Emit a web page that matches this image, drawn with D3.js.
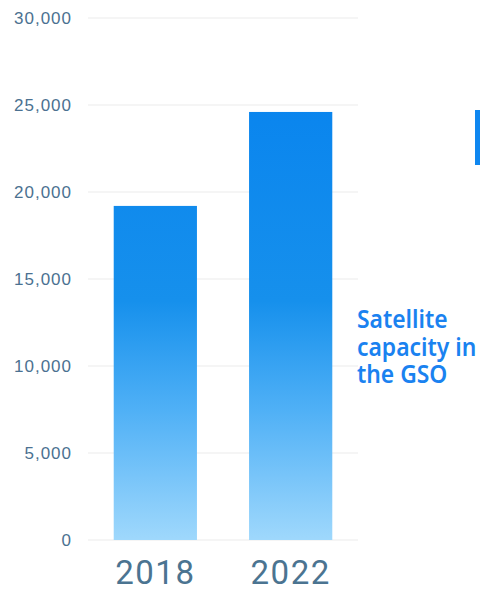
<!DOCTYPE html>
<html>
<head>
<meta charset="utf-8">
<script src="https://cdn.jsdelivr.net/npm/d3@7"></script>
<style>
  body { margin: 0; background: #fff; }
  svg { display: block; }
</style>
</head>
<body>
<svg id="chart" width="480" height="592"></svg>
<script>
const years = ["2018", "2022"];
const capacity = [19200, 24600];
const yTicks = [0, 5000, 10000, 15000, 20000, 25000, 30000];
const seriesName = ["Satellite", "capacity in", "the GSO"];

const svg = d3.select("#chart");

//plot area
const margin = { top: 18, left: 88, right: 122, bottom: 52 };
const width = +svg.attr("width");
const height = +svg.attr("height");
const innerWidth = width - margin.left - margin.right;
const innerHeight = height - margin.top - margin.bottom;

const x = d3.scaleBand()
  .domain(years)
  .range([margin.left, margin.left + innerWidth])
  .paddingInner(0.385)
  .paddingOuter(0.19);
const y = d3.scaleLinear()
  .domain([0, 30000])
  .range([margin.top + innerHeight, margin.top]);

//gradient shared by both bars
const grad = svg.append("defs").append("linearGradient")
  .attr("id", "barGrad")
  .attr("gradientUnits", "userSpaceOnUse")
  .attr("x1", 0).attr("x2", 0)
  .attr("y1", y(25000)).attr("y2", y(0));
grad.append("stop").attr("offset", "0%").attr("stop-color", "#0a85ee");
grad.append("stop").attr("offset", "45%").attr("stop-color", "#1690ec");
grad.append("stop").attr("offset", "70%").attr("stop-color", "#4fb0f6");
grad.append("stop").attr("offset", "100%").attr("stop-color", "#9fd8fc");

//gridlines
svg.append("g")
  .selectAll("line")
  .data(yTicks)
  .join("line")
  .attr("x1", margin.left)
  .attr("x2", margin.left + innerWidth)
  .attr("y1", d => y(d))
  .attr("y2", d => y(d))
  .attr("stroke", "#ebebeb")
  .attr("stroke-width", 1);

//y axis labels
const yAxis = svg.append("g")
  .attr("transform", `translate(${margin.left - 16},0)`)
  .call(d3.axisLeft(y).tickValues(yTicks).tickSize(0).tickPadding(0).tickFormat(d3.format(",")));
yAxis.select(".domain").remove();
yAxis.selectAll("text")
  .attr("font-family", "'Liberation Sans', Arial, sans-serif")
  .attr("font-size", "17px")
  .attr("letter-spacing", "1px")
  .attr("fill", "#4b7191");

//bars
svg.append("g")
  .selectAll("rect")
  .data(capacity)
  .join("rect")
  .attr("x", (d, i) => x(years[i]))
  .attr("y", d => y(d))
  .attr("width", x.bandwidth())
  .attr("height", d => y(0) - y(d))
  .attr("fill", "url(#barGrad)");

//x labels
const xAxis = svg.append("g")
  .attr("transform", `translate(0,${y(0)})`)
  .call(d3.axisBottom(x).tickSize(0).tickPadding(21));
xAxis.select(".domain").remove();
xAxis.selectAll("text")
  .attr("font-family", "Roboto, sans-serif")
  .attr("font-size", "33px")
  .attr("letter-spacing", "1.5px")
  .attr("fill", "#4b7491");

//legend swatch (cut at the edge)
svg.append("rect")
  .attr("x", 475)
  .attr("y", 110)
  .attr("width", 10)
  .attr("height", 55)
  .attr("fill", "#0f87f0");

//series label
svg.append("text")
  .attr("transform", "translate(357,328) scale(0.88,1)")
  .attr("font-family", "'Noto Sans', sans-serif")
  .attr("font-size", "26px")
  .attr("font-weight", "600")
  .attr("fill", "#1a82f0")
  .selectAll("tspan")
  .data(seriesName)
  .join("tspan")
  .attr("x", 0)
  .attr("dy", (d, i) => i === 0 ? 0 : 27.5)
  .text(d => d);
</script>
</body>
</html>
